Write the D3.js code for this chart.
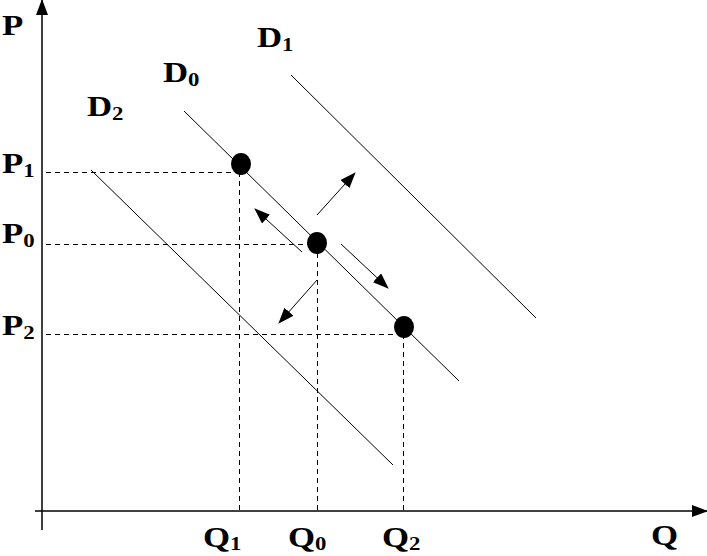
<!DOCTYPE html>
<html>
<head>
<meta charset="utf-8">
<script src="https://cdn.jsdelivr.net/npm/d3@7"></script>
<style>
    body { margin: 0; background: #fff; }
    text { font-family: 'Liberation Serif', 'Times New Roman', serif; font-weight: bold; fill: #000; }
</style>
</head>
<body>
<div class="chart"></div>
<script>
// values (quantity / price units)
const qNames = ['Q1', 'Q0', 'Q2'];
const qValues = [197, 275, 361];
const pNames = ['P1', 'P0', 'P2'];
const pValues = [339, 267, 177];

// equilibrium points on D0
const pointQ = [199, 275, 362];
const pointP = [347, 268, 184];

// demand curves: start and end
const demandNames = ['D0', 'D1', 'D2'];
const demandQ0 = [142, 249, 49];
const demandP0 = [400, 436, 341];
const demandQ1 = [417, 494, 351];
const demandP1 = [130, 193, 46];

// shift / movement arrows from the middle point
const arrowQ0 = [275, 260, 299, 275];
const arrowP0 = [296, 259, 267, 231];
const arrowQ1 = [313, 213, 346, 237];
const arrowP1 = [338, 302, 223, 188];

const w = 707;
const h = 556;

const svg = d3.select('.chart').append('svg')
    .attr('width', w)
    .attr('height', h);

const x = d3.scaleLinear().domain([0, 665]).range([42, 707]);
const y = d3.scaleLinear().domain([0, 511]).range([511, 0]);

const defs = svg.append('defs');
defs.append('marker')
    .attr('id', 'head')
    .attr('markerUnits', 'userSpaceOnUse')
    .attr('viewBox', '0 0 16 12')
    .attr('refX', 15)
    .attr('refY', 6)
    .attr('markerWidth', 16)
    .attr('markerHeight', 12)
    .attr('orient', 'auto')
    .append('path')
    .attr('d', 'M0,0L16,6L0,12Z')
    .attr('fill', '#000');

// axes
svg.append('line')
    .attr('x1', x(0)).attr('y1', y(-19))
    .attr('x2', x(0)).attr('y2', y(511))
    .attr('stroke', '#000').attr('stroke-width', 1.5)
    .attr('marker-end', 'url(#head)');
svg.append('line')
    .attr('x1', x(-7)).attr('y1', y(0))
    .attr('x2', x(665)).attr('y2', y(0))
    .attr('stroke', '#000').attr('stroke-width', 1.5)
    .attr('marker-end', 'url(#head)');

// dashed guides
const dash = '5,4';
svg.selectAll('.hguide')
    .data(pValues)
    .enter()
    .append('line')
    .attr('class', 'hguide')
    .attr('x1', x(4))
    .attr('x2', (d, i) => x(pointQ[i]))
    .attr('y1', (d) => y(d) + 0.5)
    .attr('y2', (d) => y(d) + 0.5)
    .attr('stroke', '#000')
    .attr('stroke-dasharray', dash);

svg.selectAll('.vguide')
    .data(qValues)
    .enter()
    .append('line')
    .attr('class', 'vguide')
    .attr('x1', (d) => x(d) + 0.5)
    .attr('x2', (d) => x(d) + 0.5)
    .attr('y1', (d, i) => y(pValues[i]))
    .attr('y2', y(0))
    .attr('stroke', '#000')
    .attr('stroke-dasharray', dash);

// demand curves
svg.selectAll('.demand')
    .data(demandNames)
    .enter()
    .append('line')
    .attr('class', 'demand')
    .attr('x1', (d, i) => x(demandQ0[i]))
    .attr('y1', (d, i) => y(demandP0[i]))
    .attr('x2', (d, i) => x(demandQ1[i]))
    .attr('y2', (d, i) => y(demandP1[i]))
    .attr('stroke', '#000')
    .attr('stroke-width', 1);

// arrows
svg.selectAll('.arrow')
    .data(arrowQ0)
    .enter()
    .append('line')
    .attr('class', 'arrow')
    .attr('x1', (d) => x(d))
    .attr('y1', (d, i) => y(arrowP0[i]))
    .attr('x2', (d, i) => x(arrowQ1[i]))
    .attr('y2', (d, i) => y(arrowP1[i]))
    .attr('stroke', '#000')
    .attr('stroke-width', 1)
    .attr('marker-end', 'url(#head)');

// points
svg.selectAll('.pt')
    .data(pointQ)
    .enter()
    .append('ellipse')
    .attr('class', 'pt')
    .attr('cx', (d) => x(d))
    .attr('cy', (d, i) => y(pointP[i]))
    .attr('rx', 10)
    .attr('ry', 11)
    .attr('fill', '#000');

// labels: main letter + subscript
function label(px, py, main, sub, subDy = 4) {
    const t = svg.append('text')
        .attr('transform', `translate(${px},${py}) scale(1.2,1)`)
        .style('font-size', '29px');
    t.append('tspan').text(main);
    if (sub) {
        t.append('tspan')
            .attr('dy', subDy)
            .style('font-size', '19px')
            .text(sub);
    }
}

label(2, 35, 'P');
label(651, 545, 'Q');

const pLabelY = [173, 243, 335];
pNames.forEach((n, i) => label(2, pLabelY[i], n[0], n.slice(1)));

const qLabelX = [203, 288, 382];
qNames.forEach((n, i) => label(qLabelX[i], 547, n[0], n.slice(1), 3));

const dLabelX = [163, 257, 87];
const dLabelY = [82, 47, 116];
demandNames.forEach((n, i) => label(dLabelX[i], dLabelY[i], n[0], n.slice(1)));
</script>
</body>
</html>
